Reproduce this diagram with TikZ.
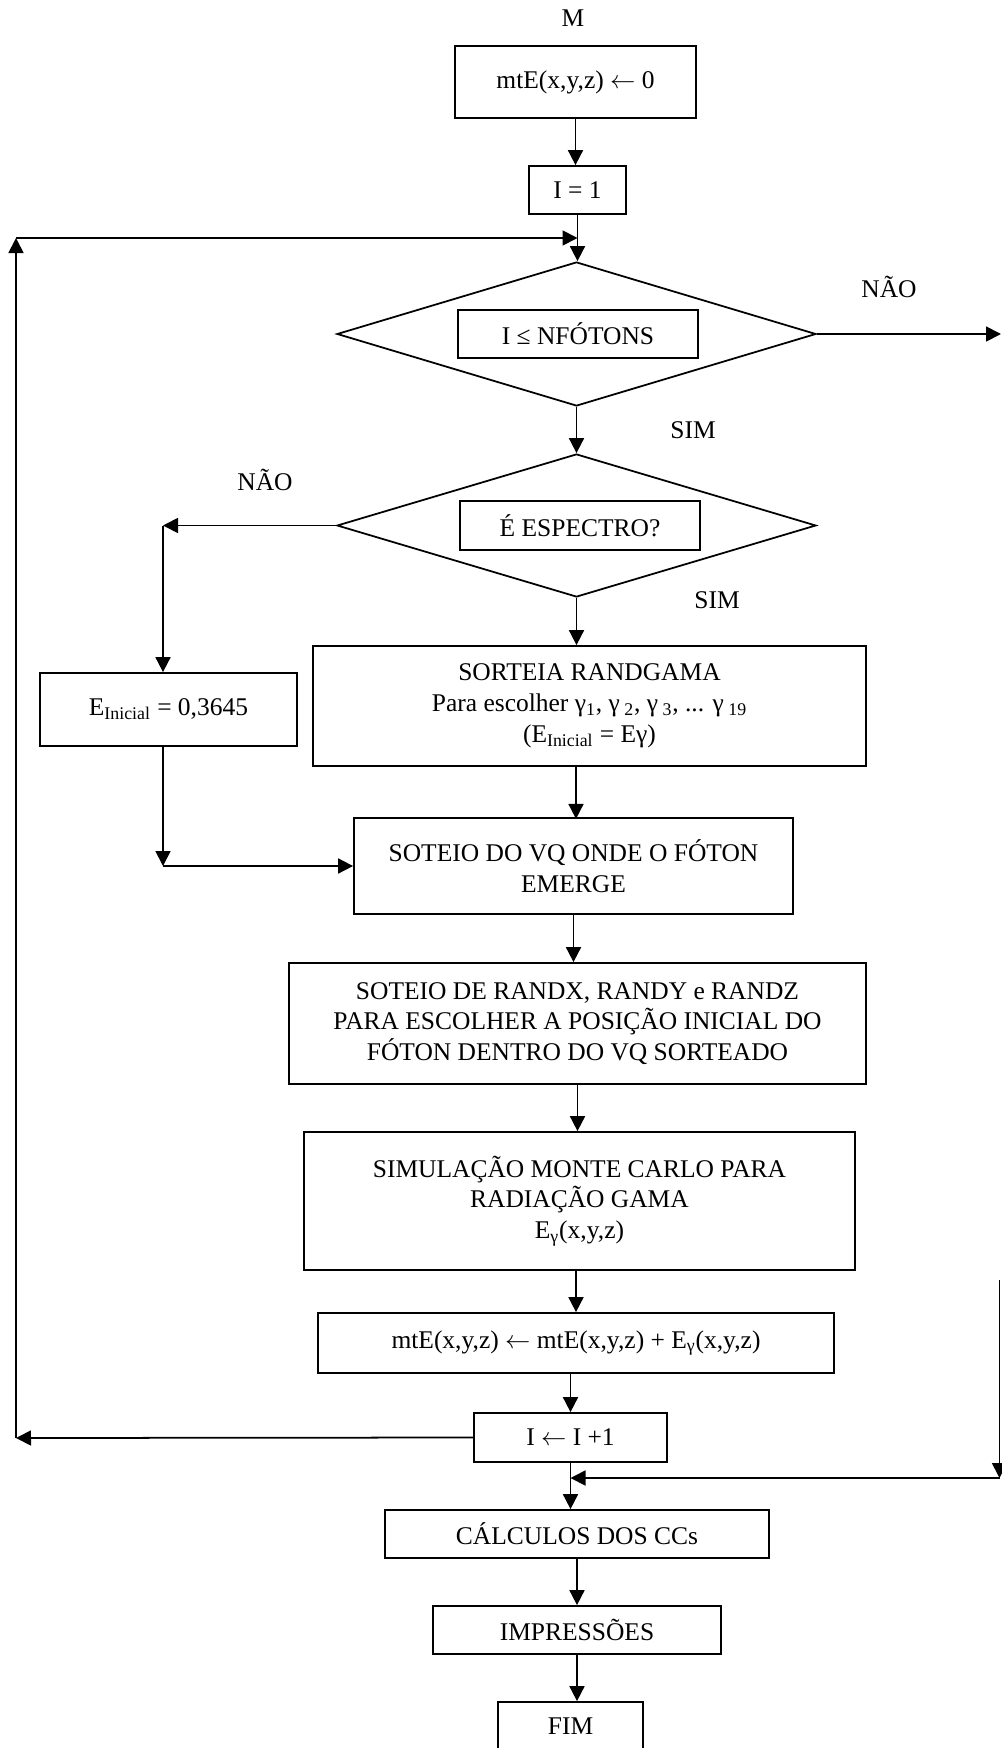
\documentclass[tikz,border=0pt]{standalone}
\usepackage{fontspec}
\setmainfont{Liberation Serif}
\usetikzlibrary{shapes.geometric,arrows.meta}

\begin{document}
\begin{tikzpicture}[
      box_style/.style={draw, line width=1pt, align=center, inner sep=0pt},
      cond_style/.style={draw, diamond, line width=1pt, inner sep=0pt},
      line_style/.style={line width=1pt},
      arrow_style/.style={line width=1pt, -{Triangle[length=0.3cm, width=0.3cm]}},
      label_style/.style={inner sep=0pt},
      font=\fontsize{14.5}{17.5}\selectfont
  ]
      \useasboundingbox (0,0) rectangle (20.02,-34.96);

      % inicio
      \node[label_style] (start) at (11.46,-0.36) {M};
      \node[box_style, minimum width=4.82cm, minimum height=1.44cm] (zero) at (11.51,-1.64) {mtE(x,y,z) $\leftarrow$ 0};
      \node[box_style, minimum width=1.94cm, minimum height=0.96cm] (one) at (11.55,-3.8) {I = 1};

      % teste do laco
      \node[cond_style, minimum width=9.58cm, minimum height=2.88cm] (cond1) at (11.53,-6.68) {};
      \node[box_style, minimum width=4.8cm, minimum height=0.96cm] (cond1txt) at (11.56,-6.68) {I ≤ NFÓTONS};
      \node[label_style] (no1) at (17.78,-5.74) {NÃO};
      \node[label_style] (yes1) at (13.86,-8.6) {SIM};

      % teste do espectro
      \node[cond_style, minimum width=9.58cm, minimum height=2.86cm] (cond2) at (11.53,-10.51) {};
      \node[box_style, minimum width=4.8cm, minimum height=0.98cm] (cond2txt) at (11.6,-10.51) {É ESPECTRO?};
      \node[label_style] (no2) at (5.3,-9.6) {NÃO};
      \node[label_style] (yes2) at (14.34,-12.0) {SIM};

      \node[box_style, minimum width=5.14cm, minimum height=1.46cm] (einit) at (3.37,-14.19) {E\textsubscript{Inicial} = 0,3645};
      \node[box_style, minimum width=11.06cm, minimum height=2.4cm] (randgama) at (11.79,-14.12)
          {SORTEIA RANDGAMA\\ Para escolher γ\textsubscript{1}, γ\textsubscript{ 2}, γ\textsubscript{ 3}, ... γ\textsubscript{ 19}\\ (E\textsubscript{Inicial} = Eγ)};

      % sorteios e simulacao
      \node[box_style, minimum width=8.78cm, minimum height=1.92cm] (emerge) at (11.47,-17.32) {SOTEIO DO VQ ONDE O FÓTON\\ EMERGE};
      \node[box_style, minimum width=11.54cm, minimum height=2.42cm] (position) at (11.55,-20.47)
          {SOTEIO DE RANDX, RANDY e RANDZ\\ PARA ESCOLHER A POSIÇÃO INICIAL DO\\ FÓTON DENTRO DO VQ SORTEADO};
      \node[box_style, minimum width=11.02cm, minimum height=2.76cm] (montecarlo) at (11.59,-24.02)
          {SIMULAÇÃO MONTE CARLO PARA\\ RADIAÇÃO GAMA\\ E\textsubscript{γ}(x,y,z)};
      \node[box_style, minimum width=10.32cm, minimum height=1.2cm] (accum) at (11.52,-26.86)
          {mtE(x,y,z) $\leftarrow$ mtE(x,y,z) + E\textsubscript{γ}(x,y,z)};
      \node[box_style, minimum width=3.86cm, minimum height=0.98cm] (inc) at (11.41,-28.75) {I $\leftarrow$ I +1};

      % final
      \node[box_style, minimum width=7.68cm, minimum height=0.96cm] (calc) at (11.54,-30.68) {CÁLCULOS DOS CCs};
      \node[box_style, minimum width=5.76cm, minimum height=0.96cm] (print) at (11.54,-32.6) {IMPRESSÕES};
      \node[box_style, minimum width=2.9cm, minimum height=0.96cm] (stop) at (11.41,-34.52) {FIM};

      \coordinate (back_low) at (0.32,-28.76);
      \coordinate (back_high) at (0.32,-4.76);
      \coordinate (exit_right) at (20.02,-6.68);
      \coordinate (exit_top) at (19.99,-25.6);
      \coordinate (exit_low) at (19.99,-29.56);
      \coordinate (no_corner) at (3.26,-10.51);
      \coordinate (join_corner) at (3.26,-17.32);

      \draw[arrow_style] (zero.south) -- (zero.south |- one.north);
      \draw[arrow_style] (one.south) -- (one.south |- cond1.north);
      \draw[arrow_style] (cond1.east) -- (exit_right);
      \draw[arrow_style] (cond1.south) -- (cond2.north);
      \draw[arrow_style] (cond2.west) -- (no_corner);
      \draw[arrow_style] (no_corner) -- (no_corner |- einit.north);
      \draw[arrow_style] (no_corner |- einit.south) -- (join_corner);
      \draw[arrow_style] (join_corner) -- (emerge.west);
      \draw[arrow_style] (cond2.south) -- (cond2.south |- randgama.north);
      \draw[arrow_style] (randgama.south -| emerge.north) ++(0.05,0) -- ++(0,-1.04);
      \draw[arrow_style] (emerge.south) -- (emerge.south |- position.north);
      \draw[arrow_style] (position.south) -- (position.south |- montecarlo.north);
      \draw[arrow_style] (montecarlo.south -| accum.north) -- (accum.north);
      \draw[arrow_style] (accum.south -| inc.north) -- (inc.north);

      % retorno do laco
      \draw[arrow_style] (inc.west) -- (back_low);
      \draw[arrow_style] (back_low) -- (back_high);
      \draw[arrow_style] (back_high) -- (back_high -| one.south);

      % saida do laco
      \draw[arrow_style] (exit_top) -- (exit_low);
      \draw[arrow_style] (exit_low) -- (exit_low -| inc.south);
      \draw[arrow_style] (inc.south) -- (inc.south |- calc.north);
      \draw[arrow_style] (calc.south) -- (calc.south |- print.north);
      \draw[arrow_style] (print.south) -- (print.south |- stop.north);
  \end{tikzpicture}
\end{document}
